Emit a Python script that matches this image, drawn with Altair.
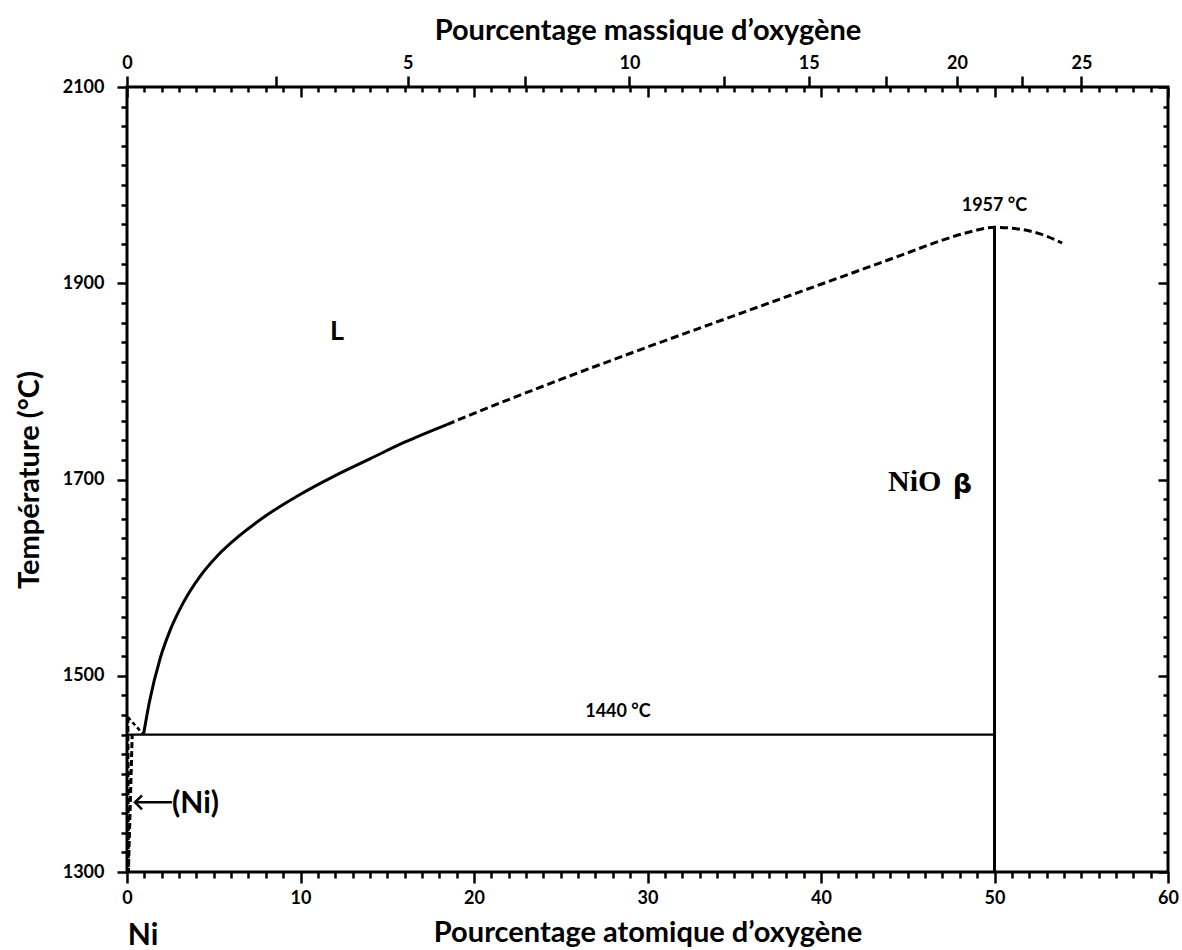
import altair as alt
import pandas as pd

# Liquidus, solid branch (at.% O, °C)
liq_solid_x = [0.95, 1.3, 1.9, 2.5, 3.2, 4.2, 5.2, 6.5, 8.0, 10.0, 12.0, 14.0, 16.0, 18.44]
liq_solid_t = [1440, 1474, 1517, 1547, 1573, 1601, 1622, 1643, 1663, 1685, 1704, 1721, 1738, 1756]

# Liquidus, dashed branch up to the NiO congruent melting point and beyond
liq_dash_x = [18.44, 21.5, 25, 30, 35, 40, 45, 47, 48.5, 50, 51.5, 53, 53.9]
liq_dash_t = [1756, 1778, 1802, 1835, 1867, 1899, 1931, 1944, 1952, 1957, 1955, 1948, 1941]

# Ni-rich corner: liquidus, solidus and solvus of (Ni)
ni_liq_x = [0.05, 0.95]
ni_liq_t = [1458, 1440]
ni_sol_x = [0.05, 0.3, 0.08]
ni_sol_t = [1458, 1440, 1300]

# Eutectic isotherm and NiO line
eut_x = [0, 50]
eut_t = [1440, 1440]
nio_x = [50, 50]
nio_t = [1300, 1957]

# Arrow pointing at the (Ni) solid solution
arrow_x = [0.46]
arrow_x2 = [2.6]
arrow_t = [1371]

# Axis ticks
x_minor = list(range(0, 61))
y_minor = list(range(1300, 2101, 20))
mass_ticks = [0, 2.5, 5, 7.5, 10, 12.5, 15, 17.5, 20, 22.5, 25]
mass_labels = [0, 5, 10, 15, 20, 25]

M_O, M_NI = 16.0, 58.69


def mass_to_atomic(w):
    a = w / M_O
    b = (100 - w) / M_NI
    return round(100 * a / (a + b), 4)


mass_pos = [mass_to_atomic(w) for w in mass_ticks]
label_expr = " : ".join(
    f"abs(datum.value - {mass_to_atomic(w)}) < 0.001 ? '{w}'" for w in mass_labels
) + " : ''"

W, H = 1041, 785
FONT = "Lato"

xs = alt.Scale(domain=[0, 60], nice=False, zero=False)
ys = alt.Scale(domain=[1300, 2100], nice=False, zero=False)


def cond(test, big, small):
    return {"condition": {"test": test, "value": big}, "value": small}


Y_MAJOR = "(datum.value - 1300) % 200 === 0"

x_bottom = alt.Axis(
    orient="bottom", values=x_minor, title="Pourcentage atomique d’oxygène", format="d",
    tickSize=cond("datum.value % 10 === 0", 11, 6),
    labelExpr="datum.value % 10 === 0 ? datum.label : ''",
    labelPadding=6, titlePadding=11, labelOverlap=False, labelFlush=False,
)
y_left = alt.Axis(
    orient="left", values=y_minor, title="Température (°C)", format="d",
    tickSize=cond(Y_MAJOR, 10, 6),
    labelExpr=f"{Y_MAJOR} ? datum.label : ''",
    labelPadding=13, titlePadding=18, labelOverlap=False, labelFlush=False,
)
x_top = alt.Axis(
    orient="top", values=mass_pos, title="Pourcentage massique d’oxygène",
    tickSize=11, labelExpr=label_expr, labelPadding=4, titlePadding=9,
    labelOverlap=False, labelFlush=False,
)
y_right_in = alt.Axis(
    orient="left", offset=-W, values=y_minor, labels=False, title=None,
    tickSize=cond(Y_MAJOR, 10, 5),
)
x_top_in = alt.Axis(
    orient="bottom", offset=-H, values=x_minor, labels=False, title=None,
    tickSize=cond("datum.value % 10 === 0", 10, 5),
)


def line_df(x, t):
    return pd.DataFrame({"x": x, "t": t})


def enc(chart, xaxis=None, yaxis=None):
    return chart.encode(
        x=alt.X("x:Q", scale=xs, axis=xaxis),
        y=alt.Y("t:Q", scale=ys, axis=yaxis),
    )


liq_solid = enc(
    alt.Chart(line_df(liq_solid_x, liq_solid_t)).mark_line(
        color="black", strokeWidth=3, interpolate="monotone"
    ),
    x_bottom, y_left,
)
liq_dash = enc(
    alt.Chart(line_df(liq_dash_x, liq_dash_t)).mark_line(
        color="black", strokeWidth=3, strokeDash=[8, 4], interpolate="monotone"
    ),
    x_top, y_right_in,
)
eutectic = enc(
    alt.Chart(line_df(eut_x, eut_t)).mark_line(color="black", strokeWidth=2.4),
    x_top_in, None,
)
nio = enc(alt.Chart(line_df(nio_x, nio_t)).mark_line(color="black", strokeWidth=3))
ni_liq = enc(
    alt.Chart(line_df(ni_liq_x, ni_liq_t)).mark_line(
        color="black", strokeWidth=2.5, strokeDash=[4, 3]
    )
)
ni_sol = enc(
    alt.Chart(line_df(ni_sol_x, ni_sol_t)).mark_line(
        color="black", strokeWidth=3, strokeDash=[6, 3]
    )
)

arrow_df = pd.DataFrame({"x": arrow_x, "x2": arrow_x2, "t": arrow_t})
arrow_shaft = alt.Chart(arrow_df).mark_rule(color="black", strokeWidth=2.5).encode(
    x=alt.X("x:Q", scale=xs, axis=None), x2="x2:Q", y=alt.Y("t:Q", scale=ys, axis=None)
)
arrow_head = alt.Chart(arrow_df).mark_point(
    shape="M1,-1L0,0L1,1", size=200, filled=False, stroke="black", strokeWidth=2.5,
    opacity=1,
).encode(x=alt.X("x:Q", scale=xs, axis=None), y=alt.Y("t:Q", scale=ys, axis=None))


def label(x, t, text, size, font=FONT, align="center", weight="bold"):
    df = pd.DataFrame({"x": [x], "t": [t], "txt": [text]})
    return alt.Chart(df).mark_text(
        font=font, fontSize=size, fontWeight=weight, align=align,
        baseline="middle", color="black",
    ).encode(
        x=alt.X("x:Q", scale=xs, axis=None),
        y=alt.Y("t:Q", scale=ys, axis=None),
        text="txt:N",
    )


texts = [
    label(12.1, 1850, "L", 27),
    label(43.86, 1697, "NiO", 30, font="Liberation Serif", align="left"),
    label(47.6, 1694, "β", 27, font="DejaVu Sans", align="left"),
    label(50.0, 1979, "1957 °C", 18),
    label(28.3, 1463, "1440 °C", 18),
    label(2.6, 1369, "(Ni)", 30, align="left"),
    label(0.05, 1235, "Ni", 30, align="left"),
]

chart = alt.layer(
    liq_solid, liq_dash, eutectic, nio, ni_liq, ni_sol, arrow_shaft, arrow_head, *texts
).resolve_axis(x="independent", y="independent").properties(
    width=W, height=H,
    background="white",
    autosize=alt.AutoSizeParams(type="none"),
    padding={"left": 127, "top": 87, "right": 14, "bottom": 78},
).configure_view(
    stroke="black", strokeWidth=3
).configure_axis(
    domain=False, grid=False, tickColor="black", tickWidth=2.5,
    labelFont=FONT, labelFontSize=18, labelFontWeight="bold", labelColor="black",
    titleFont=FONT, titleFontSize=29, titleFontWeight="bold", titleColor="black",
)

chart.save("out.html", embed_options={"renderer": "svg", "actions": False})
